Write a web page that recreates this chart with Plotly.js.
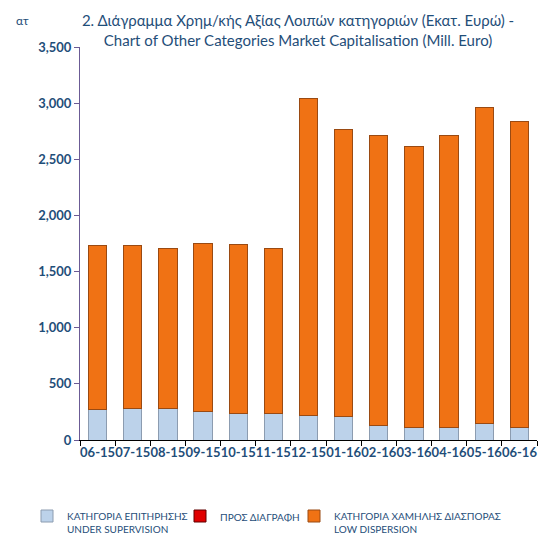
<!DOCTYPE html>
<html><head><meta charset="utf-8">
<script src="https://cdn.plot.ly/plotly-3.0.1.min.js"></script>
<style>html,body{margin:0;padding:0;background:#fff}</style>
</head><body><div id="chart" style="width:551px;height:554px"></div>
<script>
const categories = ["06-15","07-15","08-15","09-15","10-15","11-15","12-15","01-16","02-16","03-16","04-16","05-16","06-16"];
const underSupervision = [275, 280, 280, 250, 240, 240, 222, 205, 130, 107, 110, 150, 110];
const toBeDeleted = [0,0,0,0,0,0,0,0,0,0,0,0,0];
const lowDispersion = [1460, 1455, 1425, 1500, 1500, 1465, 2818, 2560, 2580, 2503, 2600, 2810, 2725];
const yTicks = [0,500,1000,1500,2000,2500,3000,3500];

const txt = '#1f4e79';
const traces = [
  {type:'bar', name:'ΚΑΤΗΓΟΡΙΑ ΕΠΙΤΗΡΗΣΗΣ<br>UNDER SUPERVISION', x:categories, y:underSupervision, legend:'legend',
   marker:{color:'#bcd2ea', line:{color:'#8c9cb0', width:1}}},
  {type:'bar', name:'ΠΡΟΣ ΔΙΑΓΡΑΦΗ', x:categories, y:toBeDeleted, legend:'legend2',
   marker:{color:'#e00000', line:{color:'#600000', width:1}}},
  {type:'bar', name:'ΚΑΤΗΓΟΡΙΑ ΧΑΜΗΛΗΣ ΔΙΑΣΠΟΡΑΣ<br>LOW DISPERSION', x:categories, y:lowDispersion, legend:'legend3',
   marker:{color:'#f07214', line:{color:'#9a4a12', width:1}}}
];
const W = 551, H = 554, L = 80, R = 14, T = 47, B = 114;
const pw = W - L - R, ph = H - T - B;
const px = v => (v - L) / pw;
const py = v => (H - B - v) / ph;
const legBase = {orientation:'h', yanchor:'top', xanchor:'left', y:py(503), valign:'top', font:{size:10, color:txt}, itemwidth:30, bgcolor:'rgba(0,0,0,0)'};
const layout = {
  width:W, height:H, barmode:'stack', bargap:0.48,
  paper_bgcolor:'#fff', plot_bgcolor:'#fff',
  margin:{l:L, r:R, t:T, b:B, autoexpand:false},
  font:{family:'Lato, "Liberation Sans", sans-serif', color:txt},
  title:{text:'2. Διάγραμμα Χρημ/κής Αξίας Λοιπών κατηγοριών (Εκατ. Ευρώ) -<br>Chart of Other Categories Market Capitalisation (Mill. Euro)',
         font:{size:15, color:txt}, x:298/W, xanchor:'center', y:1-26/H, yanchor:'top'},
  xaxis:{type:'category', showline:true, linecolor:'#000', linewidth:1, ticks:'outside', tickson:'boundaries',
         ticklen:5, tickcolor:'#000', tickangle:0, showgrid:false,
         tickfont:{size:13, color:txt, weight:'bold'}},
  yaxis:{range:[0,3500], tickvals:yTicks, tickformat:',', showline:true, linecolor:'#6b5b95', linewidth:1,
         ticks:'outside', ticklen:5, tickcolor:'#6b5b95', showgrid:false, zeroline:false,
         tickfont:{size:13, color:txt, weight:'bold'}},
  showlegend:true,
  legend:Object.assign({}, legBase, {x:px(27)}),
  legend2:Object.assign({}, legBase, {x:px(180)}),
  legend3:Object.assign({}, legBase, {x:px(294)}),
  annotations:[{text:'ατ', xref:'paper', yref:'paper', x:px(14), y:py(21), showarrow:false,
               font:{size:12, color:txt}, xanchor:'left', yanchor:'middle'}]
};
Plotly.newPlot('chart', traces, layout, {displayModeBar:false});
</script></body></html>
